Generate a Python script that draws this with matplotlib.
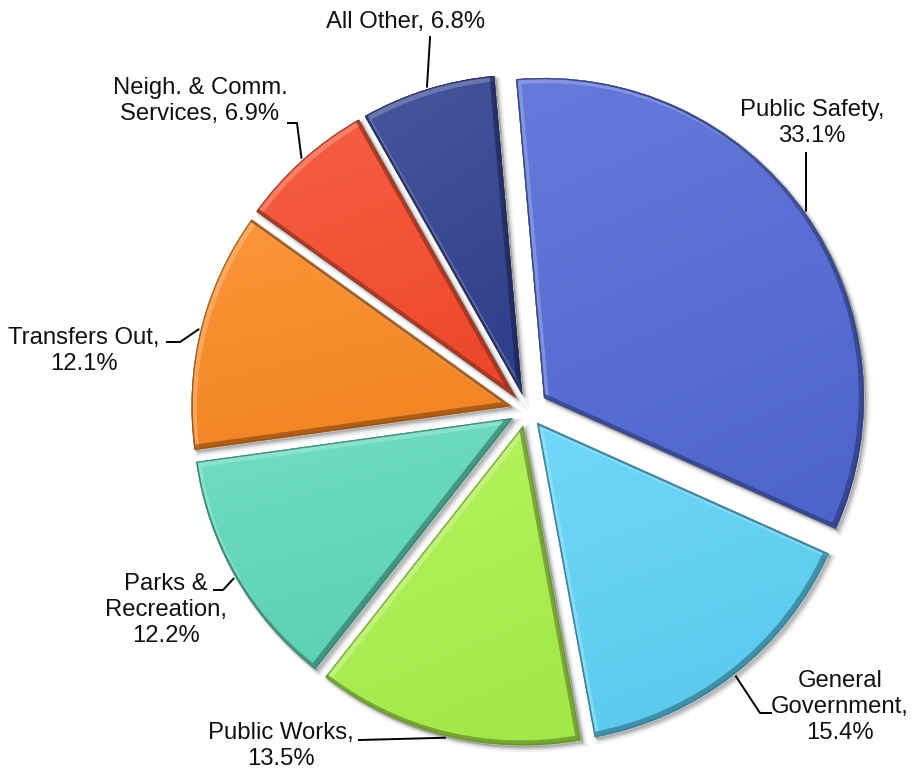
import numpy as np
import matplotlib
matplotlib.use("Agg")
import matplotlib.pyplot as plt
from matplotlib.patches import PathPatch
import matplotlib.transforms as mtransforms
from matplotlib.colors import to_rgb

# ---- data ----
categories = ["Public Safety", "General Government", "Public Works",
              "Parks & Recreation", "Transfers Out",
              "Neigh. & Comm. Services", "All Other"]
values = [33.1, 15.4, 13.5, 12.2, 12.1, 6.9, 6.8]
label_texts = ["Public Safety,\n33.1%", "General\nGovernment,\n15.4%",
               "Public Works,\n13.5%", "Parks &\nRecreation,\n12.2%",
               "Transfers Out,\n12.1%", "Neigh. & Comm.\nServices, 6.9%",
               "All Other, 6.8%"]
colors = ["#5068d6", "#5cd2f7", "#abf24a", "#5dd9ba",
          "#fc8820", "#f7492a", "#2f3f90"]

# ---- layout (pixels) ----
W, H = 913, 772
CX, CY, R = 527, 410, 320
explode = [0.065, 0.05, 0.05, 0.05, 0.05, 0.05, 0.05]
# text centre, leader start, elbow (pixels)
label_pos = [(812, 123), (840, 707), (281, 746), (166, 610),
             (84, 351), (200, 101), (406, 22)]
leader_start = [(806, 152), (772, 713), (358, 740), (213, 590),
                (166, 342), (287, 123), (430, 36)]
leader_elbow = [(806, 154), (760, 713), (360, 740), (223, 590),
                (180, 342), (297, 123), (430, 38)]

fig = plt.figure(figsize=(W / 100, H / 100), dpi=100)
ax = fig.add_axes([0, 0, 1, 1])


def px(x, y):
    return ((x - CX) / R, (CY - y) / R)


wedges, _ = ax.pie(values, startangle=95, counterclock=False,
                   explode=explode, radius=1, colors=colors,
                   wedgeprops=dict(linewidth=0))

for i, w in enumerate(wedges):
    c = np.array(to_rgb(colors[i]))
    path = w.get_path()
    # soft shadow
    for k, (d, a) in enumerate([(4, 0.05), (3, 0.08), (1.5, 0.12)]):
        sh = PathPatch(path, facecolor="black", edgecolor="black", lw=1 + 1.5 * (2 - k),
                       alpha=a,
                       transform=w.get_transform() + mtransforms.Affine2D().translate(d, -d),
                       zorder=0.5)
        ax.add_patch(sh)
    w.set_zorder(1)
    # gradient fill
    v = path.vertices
    x0, y0 = v.min(axis=0)
    x1, y1 = v.max(axis=0)
    n = 200
    gx, gy = np.meshgrid(np.linspace(0, 1, n), np.linspace(0, 1, n))
    s = 0.75 * gy + 0.25 * (1 - gx)  # 1 = top-left
    light = c + (1 - c) * 0.12
    dark = c * 0.95
    img = dark[None, None, :] * (1 - s[..., None]) + light[None, None, :] * s[..., None]
    im = ax.imshow(img, extent=[x0, x1, y0, y1], origin="lower",
                   interpolation="bilinear", zorder=1.1)
    im.set_clip_path(w)
    # bevel: highlight on upper-left edges, dark on lower-right edges
    hl = PathPatch(path, facecolor="none", edgecolor=tuple(c + (1 - c) * 0.45), lw=4,
                   alpha=0.55, transform=w.get_transform() + mtransforms.Affine2D().translate(2.5, -2.5),
                   zorder=1.2)
    ax.add_patch(hl)
    hl.set_clip_path(w)
    dk = PathPatch(path, facecolor="none", edgecolor=tuple(c * 0.5), lw=4.5,
                   alpha=0.6, transform=w.get_transform() + mtransforms.Affine2D().translate(-2, 2),
                   zorder=1.3)
    ax.add_patch(dk)
    dk.set_clip_path(w)
    edge = PathPatch(path, facecolor="none", edgecolor=tuple(c * 0.55), lw=2.0,
                     alpha=0.55, transform=w.get_transform(), zorder=1.4)
    ax.add_patch(edge)
    edge.set_clip_path(w)

    # label and leader line
    mid = np.deg2rad((w.theta1 + w.theta2) / 2)
    ex = w.center[0] + w.r * 1.005 * np.cos(mid)
    ey = w.center[1] + w.r * 1.005 * np.sin(mid)
    sx, sy = px(*leader_start[i])
    bx, by = px(*leader_elbow[i])
    ax.plot([sx, bx, ex], [sy, by, ey], color="black", lw=1.4, zorder=3,
            solid_capstyle="butt")
    tx, ty = px(*label_pos[i])
    ax.text(tx, ty, label_texts[i], ha="center", va="center", fontsize=17.2,
            family="Liberation Sans", color="#111111", linespacing=1.22, zorder=4)

ax.set_xlim(-CX / R, (W - CX) / R)
ax.set_ylim(-(H - CY) / R, CY / R)
ax.set_aspect("auto")
ax.axis("off")
fig.savefig("out.png", dpi=100, facecolor="white")
